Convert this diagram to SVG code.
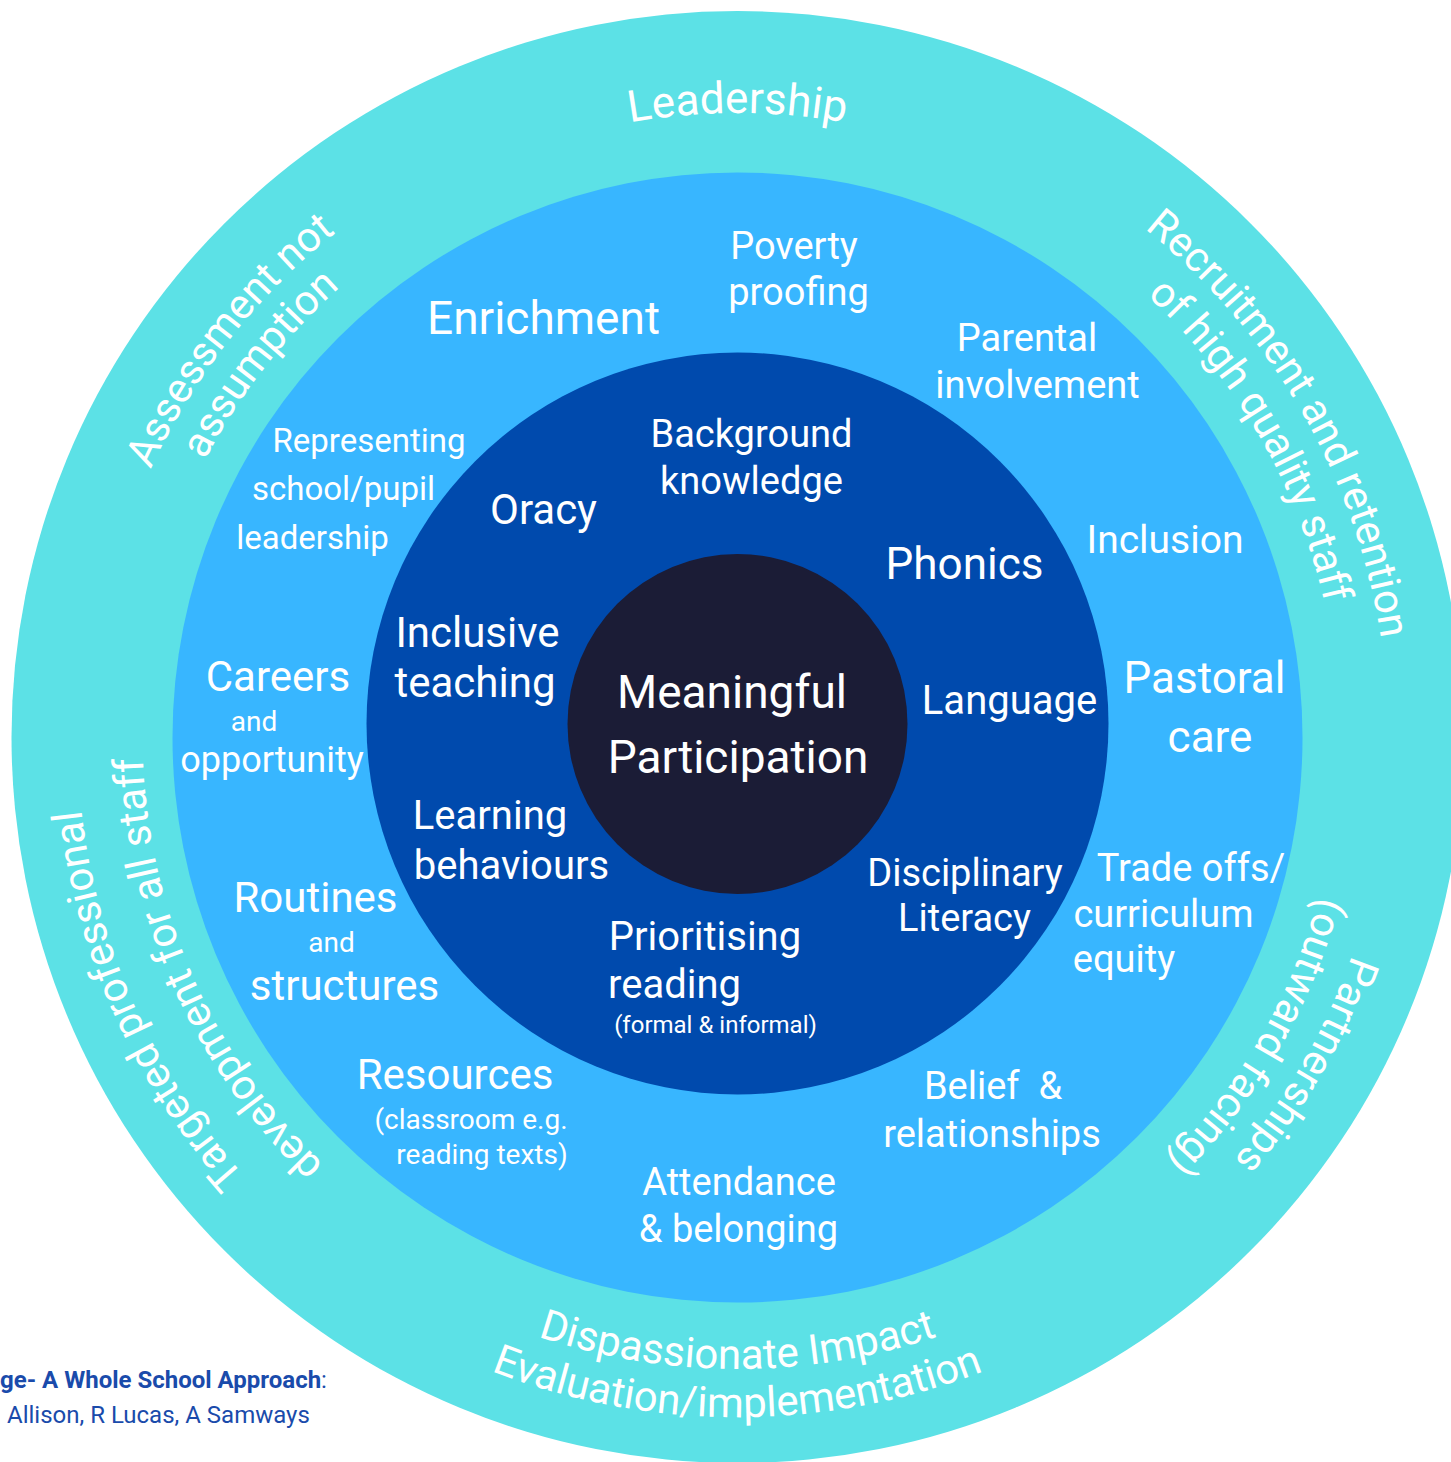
<svg xmlns="http://www.w3.org/2000/svg" xmlns:xlink="http://www.w3.org/1999/xlink" width="1451" height="1462" viewBox="0 0 1451 1462">
<style>
.t{font-family:Roboto,"Liberation Sans",sans-serif;fill:#ffffff;text-anchor:middle}
.arc{font-size:42px}
.credit{font-family:Roboto,"Liberation Sans",sans-serif;fill:#1a4bab;font-size:24px}
</style>
<defs>
<path id="pLead" d="M123.0,628.6 A624,624 0 0 1 1352.0,628.6"/>
<path id="pAss1" d="M258.2,1168.6 A645,645 0 0 1 1040.3,167.5"/>
<path id="pAss2" d="M291.6,1138.5 A600,600 0 0 1 1019.2,207.2"/>
<path id="pRec1" d="M514.8,125.3 A651,651 0 0 1 1156.0,1235.7"/>
<path id="pRec2" d="M531.6,171.3 A602,602 0 0 1 1124.5,1198.2"/>
<path id="pTar1" d="M897.2,1377.4 A660,660 0 0 1 368.4,189.8"/>
<path id="pTar2" d="M881.4,1314.3 A595,595 0 0 1 404.8,243.7"/>
<path id="pPar1" d="M1156.6,237.5 A652,652 0 0 1 514.5,1349.7"/>
<path id="pPar2" d="M1125.1,275.1 A603,603 0 0 1 531.3,1303.6"/>
<path id="pDis1" d="M115.1,846.7 A632,632 0 0 0 1359.9,846.7"/>
<path id="pDis2" d="M67.8,855.1 A680,680 0 0 0 1407.2,855.1"/>
</defs>
<rect width="1451" height="1462" fill="#ffffff"/>
<g id="rings">
<circle id="outer-ring" cx="737.5" cy="737" r="726" fill="#5ce1e6"/>
<circle id="middle-ring" cx="737.5" cy="737.5" r="565" fill="#38b6ff"/>
<circle id="inner-ring" cx="737.5" cy="723.5" r="371" fill="#004aad"/>
<circle id="core" cx="737.5" cy="724" r="170" fill="#1b1c36"/>
</g>
<g id="connectors"/>
<g id="outer-labels" class="t arc">
<text id="leadership"><textPath xlink:href="#pLead" href="#pLead" startOffset="50%" font-size="44">Leadership</textPath></text>
<g id="assessment">
<text><textPath xlink:href="#pAss1" href="#pAss1" startOffset="50%">Assessment not</textPath></text>
<text><textPath xlink:href="#pAss2" href="#pAss2" startOffset="50%">assumption</textPath></text>
</g>
<g id="recruitment">
<text><textPath xlink:href="#pRec1" href="#pRec1" startOffset="50%">Recruitment and retention</textPath></text>
<text><textPath xlink:href="#pRec2" href="#pRec2" startOffset="50%">of high quality staff</textPath></text>
</g>
<g id="targeted">
<text><textPath xlink:href="#pTar1" href="#pTar1" startOffset="50%">Targeted professional</textPath></text>
<text><textPath xlink:href="#pTar2" href="#pTar2" startOffset="50%">development for all staff</textPath></text>
</g>
<g id="partnerships">
<text><textPath xlink:href="#pPar1" href="#pPar1" startOffset="50%">Partnerships</textPath></text>
<text><textPath xlink:href="#pPar2" href="#pPar2" startOffset="50%">(outward facing)</textPath></text>
</g>
<g id="dispassionate">
<text><textPath xlink:href="#pDis1" href="#pDis1" startOffset="50%">Dispassionate Impact</textPath></text>
<text><textPath xlink:href="#pDis2" href="#pDis2" startOffset="50%">Evaluation/implementation</textPath></text>
</g>
</g>
<g id="middle-labels" class="t">
<text id="enrichment" x="543.5" y="334" font-size="46">Enrichment</text>
<g id="poverty" font-size="38"><text x="794" y="259">Poverty</text><text x="798.5" y="305">proofing</text></g>
<g id="parental" font-size="38"><text x="1027" y="351">Parental</text><text x="1037.5" y="398">involvement</text></g>
<g id="representing" font-size="33"><text x="369" y="452">Representing</text><text x="343.5" y="500">school/pupil</text><text x="312.5" y="549">leadership</text></g>
<text id="inclusion" x="1165" y="553" font-size="39">Inclusion</text>
<g id="careers"><text x="278" y="691" font-size="42">Careers</text><text x="254" y="731" font-size="28">and</text><text x="272" y="772" font-size="36">opportunity</text></g>
<g id="pastoral" font-size="44"><text x="1204.5" y="693">Pastoral</text><text x="1210" y="752">care</text></g>
<g id="routines"><text x="315.5" y="912" font-size="42">Routines</text><text x="331.5" y="952" font-size="28">and</text><text x="344.5" y="1000" font-size="42">structures</text></g>
<g id="tradeoffs" font-size="38"><text x="1191" y="881">Trade offs/</text><text x="1163.5" y="927">curriculum</text><text x="1124" y="972">equity</text></g>
<g id="resources"><text x="455" y="1089" font-size="42">Resources</text><text x="471" y="1129" font-size="28">(classroom e.g.</text><text x="482" y="1164" font-size="28">reading texts)</text></g>
<g id="belief" font-size="38"><text x="993" y="1099" xml:space="preserve" style="white-space:pre">Belief  &amp;</text><text x="992" y="1147">relationships</text></g>
<g id="attendance" font-size="38"><text x="739" y="1195">Attendance</text><text x="738.5" y="1242">&amp; belonging</text></g>
</g>
<g id="inner-labels" class="t">
<g id="background" font-size="38"><text x="751.5" y="447">Background</text><text x="751.5" y="494">knowledge</text></g>
<text id="oracy" x="543.5" y="524" font-size="42">Oracy</text>
<text id="phonics" x="964.5" y="579" font-size="44">Phonics</text>
<g id="inclusive" font-size="42"><text x="477.5" y="647">Inclusive</text><text x="475" y="697">teaching</text></g>
<text id="language" x="1009.5" y="714" font-size="40">Language</text>
<g id="learning" font-size="40"><text x="490" y="829">Learning</text><text x="511.5" y="879">behaviours</text></g>
<g id="disciplinary" font-size="38"><text x="965" y="886">Disciplinary</text><text x="964.5" y="931">Literacy</text></g>
<g id="prioritising"><text x="705" y="950" font-size="40">Prioritising</text><text x="674.5" y="998" font-size="40">reading</text><text x="715.5" y="1033" font-size="24">(formal &amp; informal)</text></g>
</g>
<g id="centre" class="t" font-size="46"><text x="732" y="708">Meaningful</text><text x="738" y="773">Participation</text></g>
<g id="credit" class="credit">
<text x="0" y="1388"><tspan font-weight="bold">ge- A Whole School Approach</tspan>:</text>
<text x="7" y="1423">Allison, R Lucas, A Samways</text>
</g>
</svg>
